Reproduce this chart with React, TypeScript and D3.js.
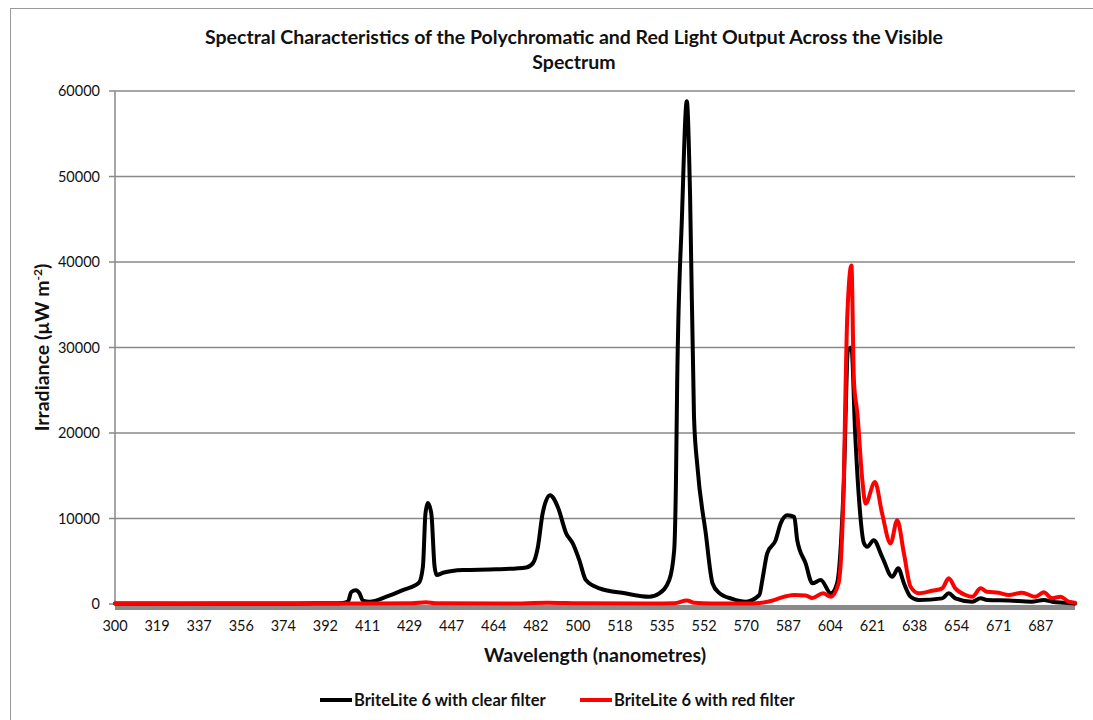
import React from 'react';
import * as d3 from 'd3';

// category labels shown on the x axis (every ~18th spectrometer channel)
const xTicks = [300, 319, 337, 356, 374, 392, 411, 429, 447, 464, 482, 500, 518, 535, 552, 570, 587, 604, 621, 638, 654, 671, 687];
const xEnd = 700;
const yTicks = [0, 10000, 20000, 30000, 40000, 50000, 60000];

// BriteLite 6 with clear filter
const clearNm = [300, 320, 340, 360, 380, 395, 400, 402.2, 403.7, 405.7, 407.4, 408.9, 411.9, 419.1, 426.1, 433, 434.7, 435.8, 436.8, 438.3, 439.7, 440.6, 443.3, 451.6, 465.1, 477.9, 480.7, 482.9, 484.9, 488.1, 491.4, 495, 497.8, 500.6, 503.4, 509.2, 520, 529.8, 533.9, 537.9, 539.9, 540.6, 541.1, 543, 545, 546.3, 547.9, 549.3, 552.7, 555.6, 558.4, 564, 569.8, 575.3, 576.5, 578.5, 581.9, 583.9, 586.6, 589.4, 590.6, 594, 596.7, 600.1, 604.2, 606.7, 609.4, 611.1, 612.5, 614, 615.5, 617.6, 618.9, 621.5, 624.9, 629, 631.4, 633.7, 636.4, 639.6, 648.5, 651, 653.5, 660.3, 663.7, 666.3, 675, 683.5, 688.1, 691.3, 696, 700];
const clearVal = [60, 60, 50, 60, 70, 80, 120, 300, 1400, 1600, 1250, 400, 270, 850, 1630, 2490, 4350, 10580, 11800, 10580, 4350, 3380, 3650, 3970, 4050, 4280, 4750, 6690, 10580, 12720, 11350, 8250, 7080, 5130, 2800, 1830, 1250, 850, 1250, 2800, 6300, 14100, 25800, 45000, 58800, 48000, 21900, 16000, 8250, 2400, 1300, 600, 270, 1050, 2800, 5950, 7470, 9420, 10390, 10190, 7470, 4750, 2420, 2800, 1250, 2420, 14100, 29640, 30000, 20000, 12520, 7080, 6690, 7470, 5520, 3190, 4170, 2420, 850, 470, 660, 1250, 660, 270, 660, 470, 400, 270, 470, 270, 150, 60];

// BriteLite 6 with red filter
const redNm = [300, 330, 360, 400, 430, 436, 440, 470, 487, 500, 530, 540, 545, 548, 555, 570, 575.3, 580, 586, 589.4, 594, 596.7, 601, 604.2, 607.3, 609.4, 609.9, 610.8, 612.5, 613.5, 614.9, 616.9, 618.2, 622, 624.9, 628.3, 631, 633.7, 636.4, 639.6, 644.7, 648.5, 651, 653.5, 657.6, 660.3, 663.7, 666.3, 671, 674.8, 679.8, 685, 688.1, 691.3, 694.5, 697.6, 700];
const redVal = [60, 40, 50, 50, 80, 200, 80, 50, 150, 100, 60, 100, 420, 150, 60, 60, 120, 350, 900, 1050, 1000, 700, 1250, 850, 2420, 14100, 21900, 33500, 39600, 26100, 22250, 14470, 11750, 14270, 10580, 7080, 9800, 5910, 2020, 1250, 1550, 1830, 3000, 1830, 1050, 850, 1830, 1440, 1320, 1050, 1320, 850, 1360, 660, 850, 270, 150];

const W = 1093;
const H = 720;
const M = { left: 115, top: 91, right: 1075, bottom: 604 };
const FONT = "Lato, 'Open Sans', sans-serif";
const GRID = '#898989';

export default function App() {
  const plotW = M.right - M.left;
  const last = xTicks[xTicks.length - 1];
  const step = plotW / (xTicks.length - 1 + (xEnd - last) / 16);
  const x = d3
    .scaleLinear()
    .domain([...xTicks, xEnd])
    .range([...xTicks.map((_, i) => M.left + i * step), M.right]);
  const y = d3.scaleLinear().domain([0, 60000]).range([M.bottom, M.top]);

  const line = d3
    .line<[number, number]>()
    .x(d => x(d[0]))
    .y(d => y(d[1]))
    .curve(d3.curveMonotoneX);

  const clear = clearNm.map((n, i) => [n, clearVal[i]] as [number, number]);
  const red = redNm.map((n, i) => [n, redVal[i]] as [number, number]);

  return (
    <div style={{ position: 'absolute', left: 0, top: 0 }}>
      <svg width={W} height={H} style={{ display: 'block', background: '#fff' }}>
        <rect x={10.5} y={8.5} width={1200} height={800} fill="none" stroke="#9a9a9a" strokeWidth={1} />

        <text x={574} y={44} textAnchor="middle" fontFamily={FONT} fontWeight="bold" fontSize={19.5} fill="#111">
          Spectral Characteristics of the Polychromatic and Red Light Output Across the Visible
        </text>
        <text x={574} y={69} textAnchor="middle" fontFamily={FONT} fontWeight="bold" fontSize={19.5} fill="#111">
          Spectrum
        </text>

        {yTicks.map(t => (
          <g key={t}>
            {t > 0 && (
              <line x1={M.left} x2={M.right} y1={y(t)} y2={y(t)} stroke={GRID} strokeWidth={1.5} />
            )}
            <line x1={M.left - 6} x2={M.left} y1={y(t)} y2={y(t)} stroke={GRID} strokeWidth={1.5} />
            <text x={100} y={y(t)} dy="0.35em" textAnchor="end" fontFamily={FONT} fontSize={14.5} fill="#111">
              {t}
            </text>
          </g>
        ))}
        <line x1={M.left} x2={M.left} y1={M.top} y2={M.bottom + 1} stroke={GRID} strokeWidth={1.5} />

        {/* floor band under the zero line */}
        <rect x={M.left} y={M.bottom + 1} width={plotW} height={5} fill="#8a8a8a" />

        {xTicks.map(t => (
          <text key={t} x={x(t)} y={631} textAnchor="middle" fontFamily={FONT} fontSize={14.5} fill="#111">
            {t}
          </text>
        ))}

        <path d={line(clear) || ''} fill="none" stroke="#000" strokeWidth={4} strokeLinejoin="round" strokeLinecap="round" />
        <path d={line(red) || ''} fill="none" stroke="#f00" strokeWidth={4} strokeLinejoin="round" strokeLinecap="round" />

        <text x={595} y={662} textAnchor="middle" fontFamily={FONT} fontWeight="bold" fontSize={19.5} fill="#111">
          Wavelength (nanometres)
        </text>

        <text
          transform={`translate(49, ${(M.top + M.bottom) / 2}) rotate(-90)`}
          textAnchor="middle"
          fontFamily={FONT}
          fontWeight="bold"
          fontSize={19.5}
          fill="#111"
        >
          Irradiance (µW m<tspan dy={-7} fontSize={12}>-2</tspan><tspan dy={7}>)</tspan>
        </text>

        <line x1={320} x2={352} y1={700} y2={700} stroke="#000" strokeWidth={4} />
        <text x={354} y={706} fontFamily={FONT} fontWeight="bold" fontSize={16.5} fill="#111">
          BriteLite 6 with clear filter
        </text>
        <line x1={580} x2={612} y1={700} y2={700} stroke="#f00" strokeWidth={4} />
        <text x={614} y={706} fontFamily={FONT} fontWeight="bold" fontSize={16.5} fill="#111">
          BriteLite 6 with red filter
        </text>
      </svg>
    </div>
  );
}
